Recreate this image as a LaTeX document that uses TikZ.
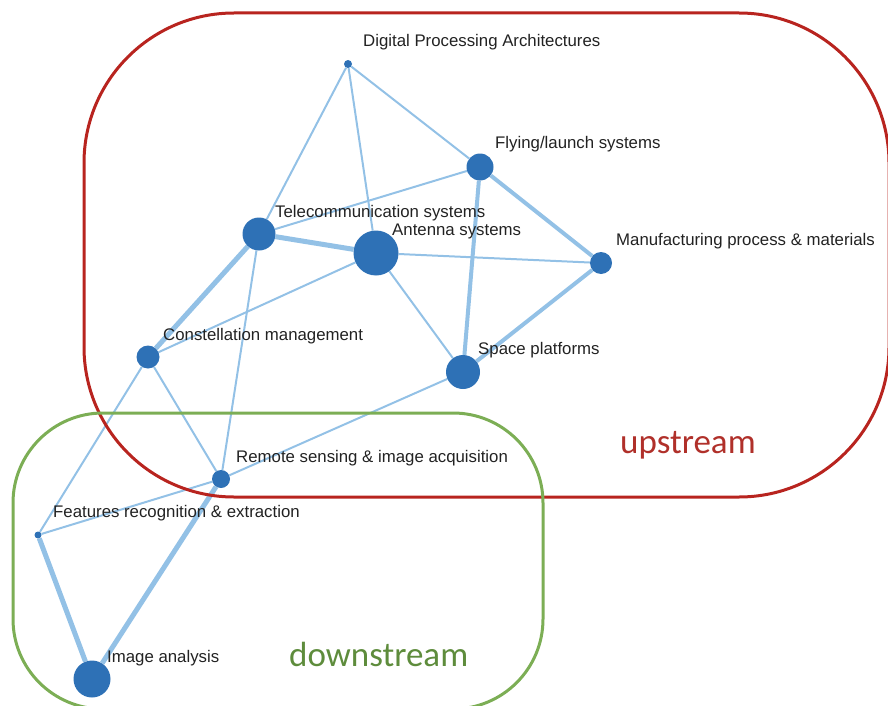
\documentclass[tikz,border=0pt]{standalone}
\usepackage{fontspec}
\setmainfont{Liberation Sans}
\newfontfamily\groupfont{Carlito}
\usetikzlibrary{backgrounds}
\definecolor{nodeblue}{HTML}{2E71B6}
\definecolor{edgeblue}{HTML}{93C1E6}
\definecolor{upred}{HTML}{B8241F}
\definecolor{uptext}{HTML}{B0302A}
\definecolor{downgreen}{HTML}{7CAE55}
\definecolor{downtext}{HTML}{5E8C3C}
\definecolor{labelgray}{HTML}{222222}
\tikzset{
  topic/.style={circle, fill=nodeblue, inner sep=0pt, minimum size=#1},
  lbl/.style={anchor=base west, inner sep=0pt, text=labelgray,
    font=\fontsize{16.8}{19}\selectfont},
  weak/.style={draw=edgeblue, line width=2pt},
  strong/.style={draw=edgeblue, line width=5pt},
  groupbox/.style={line width=3pt, rounded corners=#1},
}
\begin{document}
\begin{tikzpicture}[x=1pt, y=-1pt]
\useasboundingbox (0,0) rectangle (888,706);
\clip (0,0) rectangle (888,706);

% topics
\node[topic=8pt]  (dpa)   at (348,64)  {};
\node[topic=27pt] (fly)   at (480,167) {};
\node[topic=33pt] (tel)   at (259,234) {};
\node[topic=45pt] (ant)   at (376,253) {};
\node[topic=22pt] (man)   at (601,263) {};
\node[topic=23pt] (con)   at (148,357) {};
\node[topic=34pt] (spa)   at (463,372) {};
\node[topic=18pt] (rem)   at (221,479) {};
\node[topic=7pt]  (fea)   at (38,535)  {};
\node[topic=37pt] (img)   at (92,679)  {};

% topic labels
\node[lbl] (ldpa) at (363,47)  {Digital Processing Architectures};
\node[lbl] (lfly) at (495,148) {Flying/launch systems};
\node[lbl] (ltel) at (275,217) {Telecommunication systems};
\node[lbl] (lant) at (392,235) {Antenna systems};
\node[lbl] (lman) at (616,245) {Manufacturing process \& materials};
\node[lbl] (lcon) at (163,340) {Constellation management};
\node[lbl] (lspa) at (478,354) {Space platforms};
\node[lbl] (lrem) at (236,462) {Remote sensing \& image acquisition};
\node[lbl] (lfea) at (53,517)  {Features recognition \& extraction};
\node[lbl] (limg) at (107,662) {Image analysis};

% links between topics
\begin{scope}[on background layer]
  \draw[weak] (dpa) -- (fly);
  \draw[weak] (dpa) -- (tel);
  \draw[weak] (dpa) -- (ant);
  \draw[weak] (fly) -- (tel);
  \draw[strong, line width=4pt] (fly) -- (man);
  \draw[strong, line width=4pt] (fly) -- (spa);
  \draw[strong] (tel) -- (ant);
  \draw[strong] (tel) -- (con);
  \draw[weak] (tel) -- (rem);
  \draw[weak] (ant) -- (man);
  \draw[weak] (ant) -- (con);
  \draw[weak] (ant) -- (spa);
  \draw[strong, line width=4pt] (man) -- (spa);
  \draw[weak] (con) -- (rem);
  \draw[weak] (con) -- (fea);
  \draw[weak] (spa) -- (rem);
  \draw[weak] (rem) -- (fea);
  \draw[strong] (rem) -- (img);
  \draw[strong] (fea) -- (img);
\end{scope}

% upstream / downstream groups
\draw[groupbox=150pt, draw=upred]     (84,13)  rectangle (889,497);
\draw[groupbox=90pt,  draw=downgreen] (13,413) rectangle (543,709);
\node[anchor=base west, inner sep=0pt, text=uptext,
  font=\groupfont\fontsize{35}{40}\selectfont] (up) at (620,453) {upstream};
\node[anchor=base west, inner sep=0pt, text=downtext,
  font=\groupfont\fontsize{35}{40}\selectfont] (down) at (289,666) {downstream};
\end{tikzpicture}
\end{document}
